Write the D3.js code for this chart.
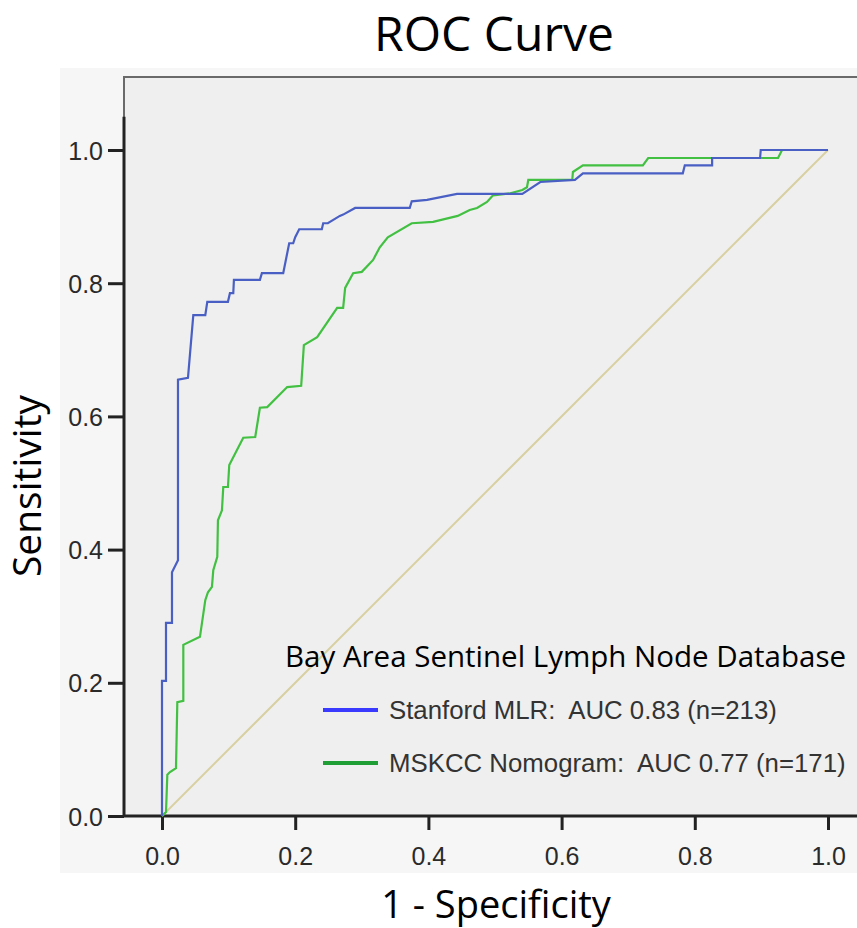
<!DOCTYPE html>
<html>
<head>
<meta charset="utf-8">
<script src="https://cdn.jsdelivr.net/npm/d3@7"></script>
<style>
  body { margin: 0; background: #fff; }
  svg { display: block; }
</style>
</head>
<body>
<div id="roc-vis"></div>
<script>
// ROC points (1 - specificity, sensitivity)
var stanfordFpr = [0, 0, 0.006, 0.006, 0.015, 0.015, 0.024, 0.024, 0.039, 0.047, 0.065, 0.068, 0.099, 0.102, 0.107, 0.108, 0.147, 0.150, 0.182, 0.191, 0.197, 0.200, 0.206, 0.240, 0.242, 0.249, 0.267, 0.272, 0.290, 0.372, 0.375, 0.398, 0.443, 0.541, 0.568, 0.620, 0.632, 0.782, 0.785, 0.826, 0.826, 0.898, 0.899, 1];
var stanfordTpr = [0, 0.203, 0.203, 0.290, 0.290, 0.366, 0.384, 0.655, 0.658, 0.752, 0.752, 0.772, 0.772, 0.785, 0.785, 0.805, 0.805, 0.815, 0.815, 0.860, 0.860, 0.869, 0.881, 0.881, 0.890, 0.890, 0.901, 0.903, 0.913, 0.913, 0.923, 0.925, 0.934, 0.934, 0.952, 0.955, 0.965, 0.965, 0.977, 0.977, 0.988, 0.988, 1, 1];

var mskccFpr = [0, 0.006, 0.008, 0.012, 0.021, 0.023, 0.032, 0.032, 0.057, 0.065, 0.069, 0.075, 0.077, 0.083, 0.084, 0.090, 0.092, 0.099, 0.101, 0.122, 0.140, 0.147, 0.158, 0.188, 0.209, 0.213, 0.233, 0.263, 0.272, 0.275, 0.287, 0.300, 0.317, 0.327, 0.339, 0.375, 0.407, 0.444, 0.462, 0.473, 0.488, 0.497, 0.523, 0.541, 0.548, 0.550, 0.616, 0.617, 0.632, 0.722, 0.730, 0.925, 0.931, 1];
var mskccTpr = [0, 0.006, 0.062, 0.066, 0.072, 0.171, 0.173, 0.257, 0.269, 0.324, 0.336, 0.344, 0.369, 0.389, 0.444, 0.459, 0.494, 0.494, 0.527, 0.568, 0.569, 0.613, 0.614, 0.644, 0.646, 0.707, 0.719, 0.763, 0.763, 0.793, 0.815, 0.817, 0.835, 0.854, 0.869, 0.890, 0.892, 0.901, 0.910, 0.913, 0.922, 0.932, 0.935, 0.940, 0.944, 0.955, 0.955, 0.967, 0.977, 0.977, 0.988, 0.988, 1, 1];

var refLine = [0, 1];
var tickValues = [0, 0.2, 0.4, 0.6, 0.8, 1.0];

var legendTitle = "Bay Area Sentinel Lymph Node Database";
var legendLabels = ["Stanford MLR:  AUC 0.83 (n=213)", "MSKCC Nomogram:  AUC 0.77 (n=171)"];
var curveColors = ["#4a5fc4", "#42c042"];
var legendColors = ["#3a3aff", "#1f9e35"];

var width = 857, height = 928;

var svg = d3.select("#roc-vis").append("svg")
    .attr("width", width)
    .attr("height", height);

var x = d3.scaleLinear().domain([0, 1]).range([162, 828]);
var y = d3.scaleLinear().domain([0, 1]).range([816, 150]);

// outer chart frame and plot area
svg.append("rect").attr("x", 60).attr("y", 68).attr("width", width - 60).attr("height", 873 - 68)
    .style("fill", "#f6f6f6");
svg.append("rect").attr("x", 124).attr("y", 77).attr("width", 760).attr("height", y(0) - 77)
    .style("fill", "#efefef").style("stroke", "#6a6a6a").style("stroke-width", 2);

// axes
var xAxis = d3.axisBottom(x).tickValues(tickValues).tickFormat(d3.format(".1f"))
    .tickSize(14).tickSizeOuter(0).tickPadding(17);
var yAxis = d3.axisLeft(y).tickValues(tickValues).tickFormat(d3.format(".1f"))
    .tickSize(16).tickSizeOuter(0).tickPadding(5);

var gx = svg.append("g").attr("transform", "translate(0," + y(0) + ")").call(xAxis);
var gy = svg.append("g").attr("transform", "translate(124,0)").call(yAxis);

[gx, gy].forEach(function(g) {
  g.select(".domain").remove();
  g.selectAll(".tick line").style("stroke", "#222").style("stroke-width", 3);
  g.selectAll(".tick text").style("font-family", "'Liberation Sans', Arial, sans-serif")
    .style("font-size", "25px").style("fill", "#2a2a2a");
});
gy.selectAll(".tick text").attr("dy", "0.36em");

svg.append("line").attr("x1", 124).attr("x2", 124).attr("y1", y(0)).attr("y2", y(1.05))
    .style("stroke", "#222").style("stroke-width", 3);
svg.append("line").attr("x1", 124).attr("x2", width).attr("y1", y(0)).attr("y2", y(0))
    .style("stroke", "#222").style("stroke-width", 3);

// reference diagonal
svg.append("line")
    .attr("x1", x(refLine[0])).attr("y1", y(refLine[0]))
    .attr("x2", x(refLine[1])).attr("y2", y(refLine[1]))
    .style("stroke", "#d8d0a2").style("stroke-width", 2);

var line = d3.line().x(function(d){ return x(d[0]); }).y(function(d){ return y(d[1]); });

svg.append("path").datum(d3.zip(mskccFpr, mskccTpr)).attr("d", line)
    .style("fill", "none").style("stroke", curveColors[1]).style("stroke-width", 2.2);
svg.append("path").datum(d3.zip(stanfordFpr, stanfordTpr)).attr("d", line)
    .style("fill", "none").style("stroke", curveColors[0]).style("stroke-width", 2.2);

// titles
var titleFont = "'Open Sans', 'Noto Sans', sans-serif";
svg.append("text").attr("x", 494).attr("y", 51).attr("text-anchor", "middle")
    .style("font-family", titleFont).style("font-size", "48px").style("fill", "#000")
    .text("ROC Curve");
svg.append("text").attr("x", 496).attr("y", 918).attr("text-anchor", "middle")
    .style("font-family", titleFont).style("font-size", "38px").style("fill", "#000")
    .text("1 - Specificity");
svg.append("text").attr("transform", "translate(41,486) rotate(-90)").attr("text-anchor", "middle")
    .style("font-family", titleFont).style("font-size", "39px").style("fill", "#000")
    .text("Sensitivity");

// legend
svg.append("text").attr("x", 285).attr("y", 667)
    .style("font-family", titleFont).style("font-size", "29.5px").style("fill", "#000")
    .text(legendTitle);

var legend = svg.selectAll(".legend-item").data(legendLabels).enter()
    .append("g").attr("class", "legend-item")
    .attr("transform", function(d, i){ return "translate(323," + (710 + i * 53) + ")"; });
legend.append("line").attr("x1", 0).attr("x2", 55).attr("y1", 0).attr("y2", 0)
    .style("stroke", function(d, i){ return legendColors[i]; }).style("stroke-width", 4);
legend.append("text").attr("x", 66).attr("y", 0).attr("dy", "0.36em")
    .style("white-space", "pre")
    .style("font-family", "'Liberation Sans', Arial, sans-serif").style("font-size", "25.8px").style("fill", "#333")
    .text(function(d){ return d; });
</script>
</body>
</html>
